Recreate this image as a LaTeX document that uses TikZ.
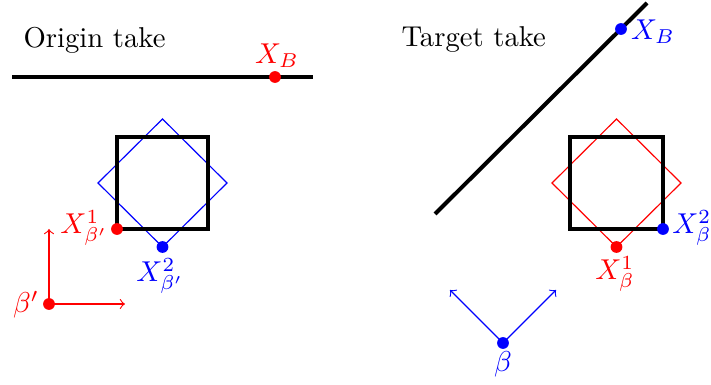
\documentclass[tikz,border=0pt]{standalone}
\begin{document}
\begin{tikzpicture}[x=0.3484pt,y=-0.3484pt,
  thickline/.style={line width=1.4pt},
  thinline/.style={line width=0.4pt},
  dot/.style={circle,fill,inner sep=0pt,minimum size=4.1pt},
  lbl/.style={inner sep=0pt}]
\useasboundingbox (0,0) rectangle (711,385);
% ---------- Origin take ----------
\node[lbl,anchor=base west] (ot) at (23,48) {Origin take};
\coordinate (l1) at (12,77);
\coordinate (l2) at (313,77);
\draw[thickline] (l1) -- (l2);
\node[dot,red] (xbo) at (275,77) {};
\node[lbl,red] (xbol) at (277,56) {$X_B$};
% diamond
\coordinate (d1) at (162.5,119);
\coordinate (d2) at (227,183);
\coordinate (d3) at (162.5,247);
\coordinate (d4) at (98,183);
\draw[thinline,blue] (d1) -- (d2) -- (d3) -- (d4) -- cycle;
% square
\coordinate (s1) at (117,137);
\coordinate (s3) at (208,229);
\draw[thickline] (s1) rectangle (s3);
\node[dot,red] (x1o) at (117,229) {};
\node[lbl,red] (x1ol) at (84,228) {$X^1_{\beta'}$};
\node[dot,blue] (x2o) at (162.5,247) {};
\node[lbl,blue] (x2ol) at (160,276) {$X^2_{\beta'}$};
% frame
\node[dot,red] (bo) at (49,304) {};
\coordinate (bou) at (49,229);
\coordinate (bor) at (125,304);
\draw[thinline,red,->] (bo.center) -- (bou);
\draw[thinline,red,->] (bo.center) -- (bor);
\node[lbl,red] (bol) at (26,305) {$\beta'$};
% ---------- Target take ----------
\node[lbl,anchor=base west] (tt) at (401,47) {Target take};
\coordinate (t1) at (435,214);
\coordinate (t2) at (647,3);
\draw[thickline] (t1) -- (t2);
\node[dot,blue] (xbt) at (621,29) {};
\node[lbl,blue] (xbtl) at (653,32) {$X_B$};
% diamond
\coordinate (e1) at (616.5,119);
\coordinate (e2) at (681,183);
\coordinate (e3) at (616.5,247);
\coordinate (e4) at (552,183);
\draw[thinline,red] (e1) -- (e2) -- (e3) -- (e4) -- cycle;
% square
\coordinate (u1) at (570,137);
\coordinate (u3) at (663,229);
\draw[thickline] (u1) rectangle (u3);
\node[dot,red] (x1t) at (616.5,247) {};
\node[lbl,red] (x1tl) at (615,274) {$X^1_{\beta}$};
\node[dot,blue] (x2t) at (663,229) {};
\node[lbl,blue] (x2tl) at (692,228) {$X^2_{\beta}$};
% frame
\node[dot,blue] (bt) at (503,343) {};
\coordinate (btl) at (450,290);
\coordinate (btr) at (556,290);
\draw[thinline,blue,->] (bt.center) -- (btl);
\draw[thinline,blue,->] (bt.center) -- (btr);
\node[lbl,blue] (btlb) at (503,364) {$\beta$};
\end{tikzpicture}
\end{document}
